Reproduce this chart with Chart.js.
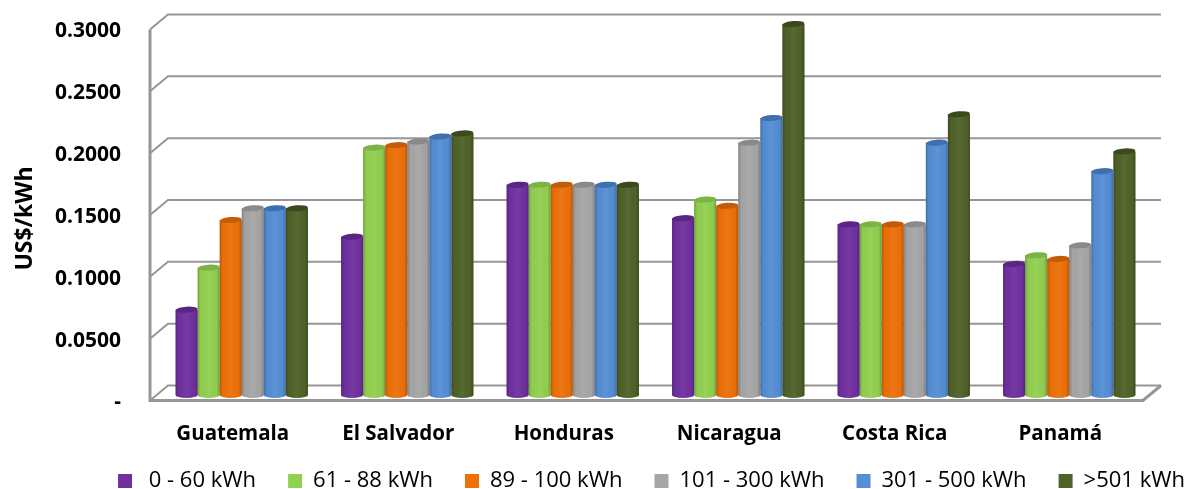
<!DOCTYPE html>
<html>
<head>
<meta charset="utf-8">
<style>
  html, body { margin: 0; padding: 0; background: #fff; }
  #chart { display: block; }
</style>
<script src="https://cdn.jsdelivr.net/npm/chart.js@4"></script>
</head>
<body>
<canvas id="chart" width="1185" height="489"></canvas>
<script>
const countries = ['Guatemala', 'El Salvador', 'Honduras', 'Nicaragua', 'Costa Rica', 'Panamá'];
const bands = ['0 - 60 kWh', '61 - 88 kWh', '89 - 100 kWh', '101 - 300 kWh', '301 - 500 kWh', '>501 kWh'];
const band0to60 = [0.069, 0.128, 0.170, 0.143, 0.138, 0.106];
const band61to88 = [0.103, 0.200, 0.170, 0.158, 0.138, 0.113];
const band89to100 = [0.1415, 0.202, 0.170, 0.153, 0.138, 0.110];
const band101to300 = [0.151, 0.205, 0.170, 0.204, 0.138, 0.121];
const band301to500 = [0.151, 0.209, 0.170, 0.224, 0.204, 0.181];
const band501up = [0.151, 0.2115, 0.170, 0.300, 0.227, 0.197];
const bandColors = ['#7030a0', '#92d050', '#ed7009', '#a6a6a6', '#558ed5', '#4f6228'];
const bandTops = ['#5a2583', '#7cb343', '#c25c08', '#8a8a8a', '#3f70ad', '#3b4a1d'];
const allBands = [band0to60, band61to88, band89to100, band101to300, band301to500, band501up];

const FONT = '"Open Sans", sans-serif';

// the picture is a fake 3D chart, walls sit off the bar plane by these offsets
const wall3d = {
  id: 'wall3d',
  afterLayout(chart) {
    // category labels reach below the legend's top padding, don't let them clip
    chart.scales.x.bottom += 9;
  },
  beforeDatasetsDraw(chart) {
    const { ctx, scales: { y }, chartArea: a } = chart;
    const fx = a.left - 9, bx = a.left + 9, ex = a.right + 9;
    ctx.save();
    ctx.strokeStyle = '#969696';
    ctx.lineWidth = 2;
    y.ticks.forEach((t, i) => {
      const py = y.getPixelForTick(i);
      ctx.beginPath();
      ctx.moveTo(fx, py + 5.5);
      ctx.lineTo(bx, py - 9.5);
      ctx.lineTo(ex, py - 9.5);
      ctx.stroke();
    });
    // left wall edge and floor
    ctx.lineWidth = 3;
    ctx.beginPath();
    ctx.moveTo(fx, y.getPixelForValue(0.3) + 5.5);
    ctx.lineTo(fx, y.getPixelForValue(0) + 5.5);
    ctx.lineTo(a.right - 9, y.getPixelForValue(0) + 5.5);
    ctx.lineTo(ex, y.getPixelForValue(0) - 9.5);
    ctx.stroke();
    ctx.restore();
  },
  afterDatasetsDraw(chart) {
    const { ctx } = chart;
    chart.data.datasets.forEach((ds, di) => {
      chart.getDatasetMeta(di).data.forEach(bar => {
        const w = bar.width, l = bar.x - w / 2;
        const g = ctx.createLinearGradient(l, 0, l + w, 0);
        g.addColorStop(0, 'rgba(0,0,0,0.22)');
        g.addColorStop(0.14, 'rgba(0,0,0,0.02)');
        g.addColorStop(0.5, 'rgba(255,255,255,0.05)');
        g.addColorStop(0.86, 'rgba(0,0,0,0.02)');
        g.addColorStop(1, 'rgba(0,0,0,0.24)');
        ctx.save();
        // bottom cap
        ctx.fillStyle = bandColors[di];
        ctx.beginPath();
        ctx.ellipse(bar.x, bar.base, w / 2, 3, 0, 0, Math.PI * 2);
        ctx.fill();
        ctx.fillStyle = g;
        ctx.beginPath();
        ctx.ellipse(bar.x, bar.base, w / 2, 3, 0, 0, Math.PI);
        ctx.fill();
        ctx.fillRect(l, bar.y, w, bar.base - bar.y);
        // top cap, slightly tilted
        ctx.fillStyle = bandTops[di];
        ctx.beginPath();
        ctx.ellipse(bar.x, bar.y, w / 2, 3, -0.07, 0, Math.PI * 2);
        ctx.fill();
        ctx.restore();
      });
    });
  }
};

new Chart(document.getElementById('chart'), {
  type: 'bar',
  data: {
    labels: countries,
    datasets: bands.map((name, i) => ({
      label: name,
      data: allBands[i],
      backgroundColor: bandColors[i],
      borderWidth: 0,
      clip: false,
      categoryPercentage: 0.8,
      barPercentage: 1
    }))
  },
  options: {
    responsive: false,
    animation: false,
    devicePixelRatio: 1,
    layout: { padding: { top: 24, right: -32, left: 0, bottom: -13 } },
    plugins: {
      tooltip: { enabled: false },
      legend: {
        position: 'bottom',
        align: 'end',
        onClick: null,
        labels: {
          boxWidth: 14,
          boxHeight: 14,
          padding: 32,
          color: '#222',
          font: { family: FONT, size: 22 },
          generateLabels: () => bands.map((name, i) => ({
            text: (i === 0 ? '\u00a0' : '') + name,
            fillStyle: bandColors[i],
            strokeStyle: bandColors[i],
            lineWidth: 0,
            datasetIndex: i
          }))
        }
      }
    },
    scales: {
      x: {
        grid: { display: false },
        border: { display: false },
        afterFit: s => { s.height = 43; },
        ticks: {
          color: '#000',
          padding: 19,
          labelOffset: -9,
          maxRotation: 0,
          font: { family: FONT, size: 20.5, weight: 'bold' }
        }
      },
      y: {
        min: 0,
        max: 0.3,
        grid: { display: false },
        border: { display: false },
        afterFit: s => { s.width = 159; s.paddingTop = 0; s.paddingBottom = 0; },
        title: {
          display: true,
          text: 'US$/kWh\u00a0\u00a0\u00a0',
          color: '#000',
          font: { family: FONT, size: 23, weight: 'bold' },
          padding: { top: 12, bottom: 0 }
        },
        ticks: {
          stepSize: 0.05,
          padding: 30,
          labelOffset: 7.5,
          color: '#000',
          font: { family: FONT, size: 21, weight: 'bold' },
          callback: v => (v === 0 ? '-' : v.toFixed(4))
        }
      },
      // empty axis, only keeps the plot clear of the right edge
      gutter: {
        position: 'right',
        grid: { display: false },
        border: { display: false },
        ticks: { display: false },
        afterFit: s => { s.width = 65; s.paddingTop = 0; s.paddingBottom = 0; }
      }
    }
  },
  plugins: [wall3d]
});
</script>
</body>
</html>
